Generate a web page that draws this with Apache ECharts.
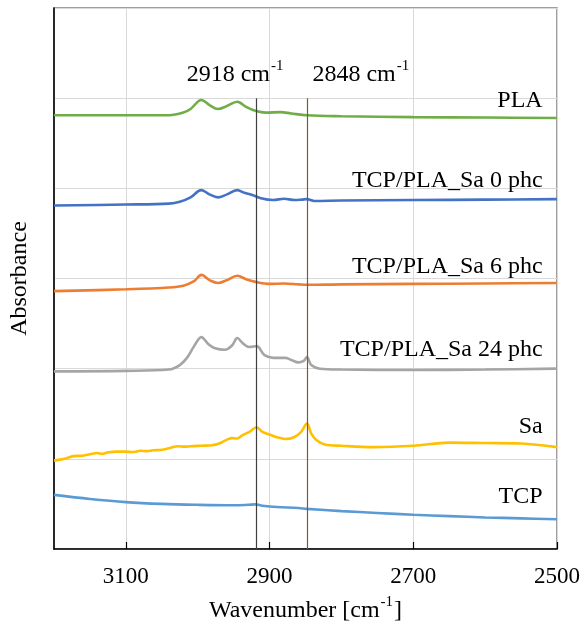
<!DOCTYPE html>
<html>
<head>
<meta charset="utf-8">
<script src="https://cdn.jsdelivr.net/npm/echarts@6/dist/echarts.min.js"></script>
<style>
  html, body { margin: 0; padding: 0; background: #fff; }
  #chart { width: 585px; height: 628px; }
</style>
</head>
<body>
<div id="chart"></div>
<script>
// FTIR spectra, C-H stretching region. Each series: [wavenumber (cm-1), absorbance (offset, a.u.)]
const seriesNames = ['PLA', 'TCP/PLA_Sa 0 phc', 'TCP/PLA_Sa 6 phc', 'TCP/PLA_Sa 24 phc', 'Sa', 'TCP'];
const seriesColors = ['#70ad47', '#4472c4', '#ed7d31', '#a5a5a5', '#ffc000', '#5b9bd5'];

const plaData = [
  [3200, 4.81], [3100, 4.81], [3040, 4.81], [3020, 4.84], [3010, 4.88], [2995, 4.98],
  [2983, 4.92], [2972, 4.88], [2960, 4.91], [2945, 4.96], [2932, 4.90], [2920, 4.86],
  [2905, 4.84], [2885, 4.845], [2870, 4.83], [2848, 4.81], [2800, 4.80], [2700, 4.79],
  [2600, 4.785], [2500, 4.78]
];
const sa0Data = [
  [3200, 3.81], [3100, 3.82], [3040, 3.83], [3025, 3.85], [3010, 3.90], [2995, 3.98],
  [2983, 3.93], [2972, 3.90], [2960, 3.93], [2945, 3.98], [2935, 3.95], [2925, 3.93],
  [2912, 3.89], [2895, 3.87], [2880, 3.885], [2865, 3.87], [2855, 3.875], [2848, 3.88],
  [2838, 3.86], [2800, 3.865], [2700, 3.87], [2600, 3.875], [2500, 3.88]
];
const sa6Data = [
  [3200, 2.86], [3100, 2.88], [3040, 2.90], [3020, 2.92], [3005, 2.97], [2995, 3.04],
  [2983, 2.98], [2972, 2.95], [2960, 2.98], [2945, 3.03], [2932, 2.99], [2918, 2.96],
  [2900, 2.94], [2880, 2.945], [2860, 2.935], [2848, 2.93], [2800, 2.935], [2700, 2.94],
  [2600, 2.945], [2500, 2.95]
];
const sa24Data = [
  [3200, 1.97], [3100, 1.975], [3040, 1.99], [3025, 2.04], [3015, 2.12], [3005, 2.25],
  [2995, 2.35], [2985, 2.27], [2977, 2.23], [2962, 2.21], [2952, 2.26], [2945, 2.34],
  [2937, 2.28], [2928, 2.24], [2918, 2.25], [2907, 2.15], [2895, 2.12], [2878, 2.12],
  [2868, 2.09], [2860, 2.07], [2852, 2.09], [2848, 2.13], [2842, 2.04], [2830, 2.00],
  [2800, 1.99], [2700, 1.985], [2600, 1.99], [2500, 2.00]
];
const saData = [
  [3200, 0.98], [3185, 1.00], [3173, 1.03], [3160, 1.035], [3150, 1.05], [3140, 1.065],
  [3133, 1.055], [3126, 1.07], [3112, 1.08], [3100, 1.08], [3090, 1.075], [3080, 1.09],
  [3070, 1.085], [3062, 1.095], [3050, 1.10], [3039, 1.12], [3028, 1.14], [3018, 1.135],
  [3010, 1.14], [2995, 1.145], [2980, 1.15], [2970, 1.17], [2960, 1.21], [2952, 1.23],
  [2945, 1.225], [2938, 1.26], [2928, 1.30], [2918, 1.35], [2910, 1.30], [2900, 1.27],
  [2890, 1.24], [2878, 1.22], [2866, 1.24], [2856, 1.30], [2848, 1.39], [2842, 1.28],
  [2835, 1.21], [2823, 1.16], [2800, 1.145], [2756, 1.13], [2700, 1.145], [2650, 1.18],
  [2600, 1.175], [2550, 1.17], [2500, 1.13]
];
const tcpData = [
  [3200, 0.60], [3150, 0.555], [3100, 0.52], [3050, 0.50], [3000, 0.49], [2950, 0.485],
  [2930, 0.49], [2920, 0.495], [2910, 0.48], [2890, 0.465], [2860, 0.455], [2848, 0.445],
  [2800, 0.42], [2750, 0.40], [2700, 0.38], [2650, 0.365], [2600, 0.35], [2550, 0.34],
  [2500, 0.33]
];
const spectra = [plaData, sa0Data, sa6Data, sa24Data, saData, tcpData];

// Where each spectrum's name sits: [right edge wavenumber, absorbance]
const nameAnchors = [
  [2520, 4.97], [2520, 4.09], [2520, 3.13], [2520, 2.21], [2520, 1.36], [2520, 0.575]
];

// Marked peak positions and their annotations
const peakLines = [2918, 2848];
const peakLineColors = ['#404040', '#7b5a3c'];
const peakLabelAnchors = [[2948, 5.28], [2773, 5.28]];
const peakLineTop = 5;

const xTicks = [2500, 2700, 2900, 3100];

const FONT = "'Liberation Serif', 'Times New Roman', serif";
const FS = 24;

const series = spectra.map((data, i) => ({
  name: seriesNames[i],
  type: 'line',
  data: data,
  smooth: 0.35,
  showSymbol: false,
  symbol: 'none',
  lineStyle: { color: seriesColors[i], width: 2.6 },
  z: 3,
  markPoint: {
    symbol: 'circle',
    symbolSize: 0,
    silent: true,
    label: {
      show: true,
      position: 'left',
      distance: 0,
      color: '#000',
      fontFamily: FONT,
      fontSize: FS,
      formatter: seriesNames[i]
    },
    data: [{ coord: nameAnchors[i] }]
  }
}));

// Vertical peak marker lines and their wavenumber labels
series.push({
  name: 'peaks',
  type: 'line',
  data: [],
  z: 5,
  markLine: {
    symbol: 'none',
    silent: true,
    label: { show: false },
    data: peakLines.map((wn, i) => [
      { coord: [wn, 0], lineStyle: { color: peakLineColors[i], width: 1.2, type: 'solid' } },
      { coord: [wn, peakLineTop] }
    ])
  },
  markPoint: {
    symbol: 'circle',
    symbolSize: 0,
    silent: true,
    label: {
      show: true,
      position: 'inside',
      color: '#000',
      fontFamily: FONT,
      formatter: (p) => '{n|' + p.name + ' cm}{s|-1}',
      rich: {
        n: { fontFamily: FONT, fontSize: FS, color: '#000', verticalAlign: 'bottom', lineHeight: 28 },
        s: { fontFamily: FONT, fontSize: 15, color: '#000', verticalAlign: 'top', lineHeight: 28, padding: [0, 0, 13, 1] }
      }
    },
    data: peakLines.map((wn, i) => ({ name: String(wn), coord: peakLabelAnchors[i] }))
  }
});

const chart = echarts.init(document.getElementById('chart'), null, { renderer: 'canvas' });
chart.setOption({
  backgroundColor: '#ffffff',
  animation: false,
  grid: {
    left: 54, right: 28, top: 8, bottom: 78,
    show: true,
    borderColor: '#7f7f7f',
    borderWidth: 1.5,
    backgroundColor: 'transparent'
  },
  xAxis: {
    type: 'value',
    min: 2500,
    max: 3200,
    inverse: true,
    name: '{n|Wavenumber [cm}{s|-1}{n|]}',
    nameLocation: 'middle',
    nameGap: 46,
    nameTextStyle: {
      rich: {
        n: { fontFamily: FONT, fontSize: FS, color: '#000', verticalAlign: 'bottom', lineHeight: 28 },
        s: { fontFamily: FONT, fontSize: 15, color: '#000', verticalAlign: 'top', lineHeight: 28, padding: [0, 1, 13, 1] }
      }
    },
    axisLine: { show: true, onZero: false, lineStyle: { color: '#000', width: 1.5 } },
    axisTick: { show: true, inside: true, length: 7, customValues: xTicks, lineStyle: { color: '#000', width: 1.2 } },
    axisLabel: {
      show: true,
      customValues: xTicks,
      formatter: (v) => String(v),
      margin: 16,
      color: '#000',
      fontFamily: FONT,
      fontSize: 23
    },
    splitLine: { show: true, lineStyle: { color: '#d9d9d9', width: 1 } }
  },
  yAxis: {
    type: 'value',
    min: 0,
    max: 6,
    interval: 1,
    name: 'Absorbance',
    nameLocation: 'middle',
    nameGap: 22,
    nameTextStyle: { fontFamily: FONT, fontSize: FS, color: '#000' },
    axisLine: { show: true, lineStyle: { color: '#000', width: 1.5 } },
    axisTick: { show: false },
    axisLabel: { show: false },
    splitLine: { show: true, lineStyle: { color: '#d9d9d9', width: 1 } }
  },
  series: series
});
</script>
</body>
</html>
